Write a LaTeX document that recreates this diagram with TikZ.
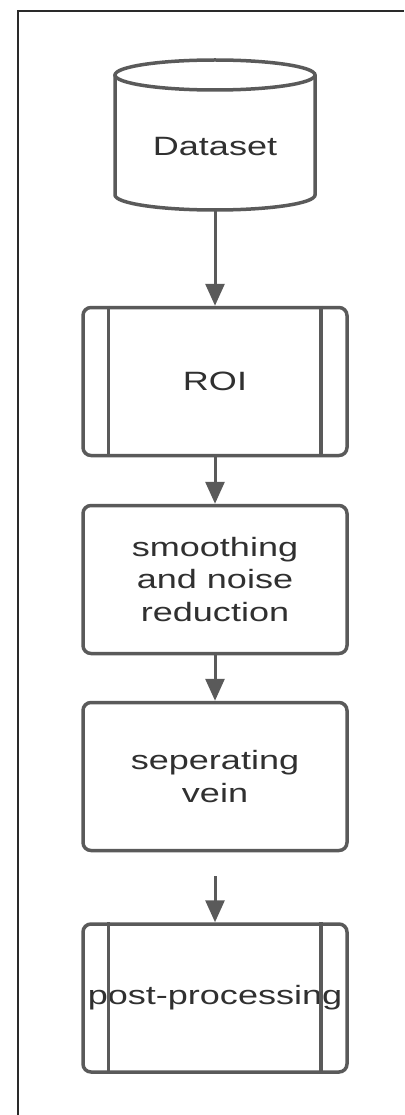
\documentclass[tikz,border=0pt]{standalone}
\usepackage{fontspec}
\usetikzlibrary{arrows.meta}
\newfontfamily\labfont[FakeStretch=1.36]{Liberation Sans}
\definecolor{linegray}{HTML}{5A5A5A}
\definecolor{textgray}{HTML}{303030}
\definecolor{framegray}{HTML}{2A2A2A}
\begin{document}
\begin{tikzpicture}[x=1pt,y=-1pt,
  lbl/.style={font=\labfont\fontsize{26.5}{32.5}\selectfont, text=textgray, align=center, inner sep=0pt},
  procbox/.style={lbl, draw=linegray, line width=3.5pt, rounded corners=8pt, minimum width=264pt, minimum height=148pt},
  flowarrow/.style={draw=linegray, line width=3pt, -{Triangle[width=19pt,length=22pt]}},
  innerline/.style={draw=linegray, line width=3.5pt}
]
\useasboundingbox (0,0) rectangle (404,1115);
% frame
\draw[framegray, line width=2pt] (18,1115) -- (18,11) -- (404,11);
% cylinder
\draw[linegray, line width=3.5pt, fill=white] (115,75) -- (115,195) arc[start angle=180, end angle=360, x radius=100pt, y radius=15pt] -- (315,75);
\draw[linegray, line width=3.5pt] (215,75) ellipse [x radius=100pt, y radius=15pt];
\node[lbl] (dataset) at (215,147) {Dataset};
\coordinate (cylbot) at (215,210);
% boxes
\node[procbox] (roi) at (215,381.5) {ROI};
\node[procbox] (smooth) at (215,579.5) {smoothing\\and noise\\reduction};
\node[procbox] (sep) at (215,776.5) {seperating\\vein};
\node[procbox] (post) at (215,998) {post-processing};
% inner lines of predefined process boxes
\draw[innerline] ([xshift=27pt]roi.north west) -- ([xshift=27pt]roi.south west);
\draw[innerline] ([xshift=-28pt]roi.north east) -- ([xshift=-28pt]roi.south east);
\draw[innerline] ([xshift=27pt]post.north west) -- ([xshift=27pt]post.south west);
\draw[innerline] ([xshift=-28pt]post.north east) -- ([xshift=-28pt]post.south east);
% arrows
\draw[flowarrow] (cylbot) -- (roi.north);
\draw[flowarrow] (roi.south) -- (smooth.north);
\draw[flowarrow] (smooth.south) -- (sep.north);
\coordinate (a4) at (215,876);
\draw[flowarrow] (a4) -- (post.north);
\end{tikzpicture}
\end{document}
